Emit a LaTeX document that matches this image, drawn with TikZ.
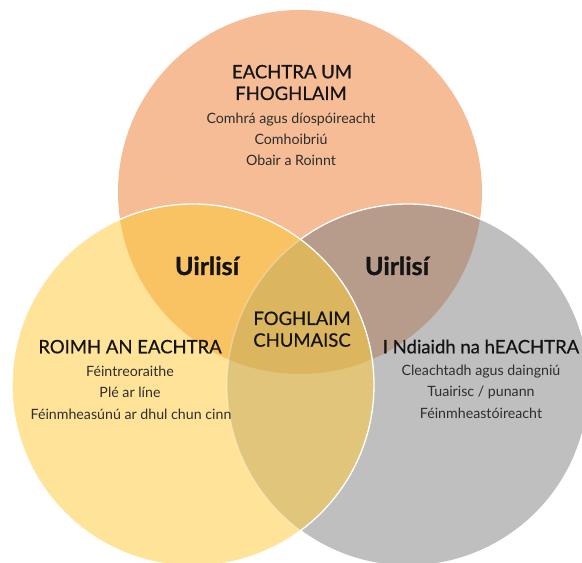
\documentclass[tikz,border=0pt]{standalone}
\usepackage{fontspec}
\setmainfont{Lato}
\newfontfamily\titlefont[FakeBold=0.6]{Lato}
\newfontfamily\toolfont[FakeBold=1.2]{Lato Bold}
\definecolor{ctop}{HTML}{F5BC96}
\definecolor{cleft}{HTML}{FFE399}
\definecolor{cright}{HTML}{BFBFBF}
\definecolor{ctl}{HTML}{F9C262}
\definecolor{ctr}{HTML}{B89C8B}
\definecolor{clr}{HTML}{E0C57A}
\definecolor{ctlr}{HTML}{DCB55F}
\definecolor{ttl}{HTML}{141414}
\definecolor{bdy}{HTML}{2E2E2E}
\tikzset{
  titletext/.style={anchor=base, text=ttl, font=\titlefont\fontsize{18.5}{20}\selectfont, inner sep=0pt},
  bodytext/.style={anchor=base, text=bdy, font=\fontsize{14.2}{16}\selectfont, inner sep=0pt},
  tooltext/.style={anchor=base, text=ttl, font=\toolfont\fontsize{25}{28}\selectfont, inner sep=0pt},
  rim/.style={draw=white, line width=1.3pt}
}
\begin{document}
\begin{tikzpicture}[x=1pt,y=1pt]
\useasboundingbox (0,0) rectangle (582,563);
\begin{scope}
\clip (0,0) rectangle (582,563);
\coordinate (T) at (300,371);
\coordinate (L) at (193,178);
\coordinate (R) at (408,178);
% base fills
\fill[ctop] (T) circle[radius=182];
\fill[cright] (R) circle[radius=181];
\fill[cleft] (L) circle[radius=181];
% pairwise overlaps
\begin{scope}
  \clip (T) circle[radius=182];
  \fill[ctl] (L) circle[radius=181];
  \fill[ctr] (R) circle[radius=181];
\end{scope}
\begin{scope}
  \clip (L) circle[radius=181];
  \fill[clr] (R) circle[radius=181];
\end{scope}
\begin{scope}
  \clip (T) circle[radius=182];
  \clip (L) circle[radius=181];
  \fill[ctlr] (R) circle[radius=181];
\end{scope}
% rims
\draw[rim] ([shift={(R)}]126.4:181) arc[start angle=126.4, end angle=-126.4, radius=181];
\draw[rim, draw opacity=0.35] ([shift={(R)}]126.4:181) arc[start angle=126.4, end angle=233.6, radius=181];
\draw[rim] (L) circle[radius=181];
\end{scope}
% top circle texts
\node[titletext] (t1) at (292,484.7) {EACHTRA UM};
\node[titletext] (t2) at (291,463) {FHOGHLAIM};
\node[bodytext] (t3) at (291,439) {Comhrá agus díospóireacht};
\node[bodytext] (t4) at (291,418.7) {Comhoibriú};
\node[bodytext] (t5) at (291,397) {Obair a Roinnt};
% tools
\node[tooltext] (u1) at (207,288) {Uirlisí};
\node[tooltext] (u2) at (397,288) {Uirlisí};
% centre
\node[titletext] (c1) at (302,238) {FOGHLAIM};
\node[titletext] (c2) at (302,216.3) {CHUMAISC};
% left texts
\node[titletext] (l1) at (130,209.7) {ROIMH AN EACHTRA};
\node[bodytext] (l2) at (130,186.3) {Féintreoraithe};
\node[bodytext] (l3) at (130,165.7) {Plé ar líne};
\node[bodytext] (l4) at (131,143.7) {Féinmheasúnú ar dhul chun cinn};
% right texts
\node[titletext] (r1) at (481,209.7) {I Ndiaidh na hEACHTRA};
\node[bodytext] (r2) at (481,187) {Cleachtadh agus daingniú};
\node[bodytext] (r3) at (481,166) {Tuairisc / punann};
\node[bodytext] (r4) at (481,144) {Féinmheastóireacht};
\end{tikzpicture}
\end{document}
